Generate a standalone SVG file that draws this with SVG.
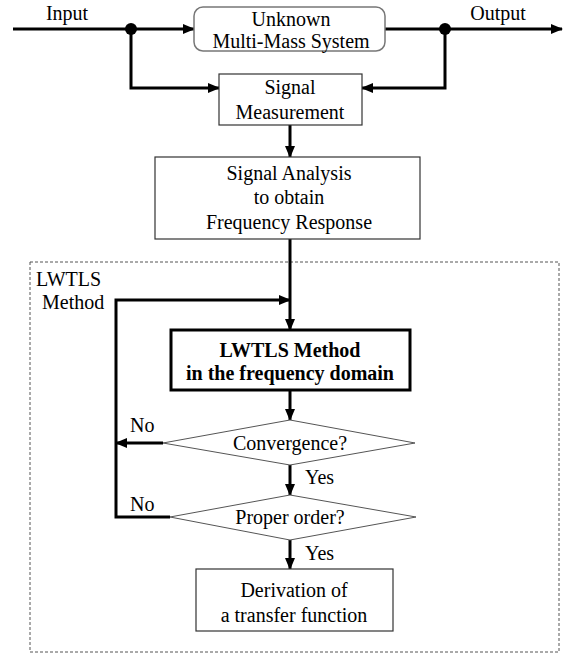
<svg xmlns="http://www.w3.org/2000/svg" width="567" height="657" viewBox="0 0 567 657">
<style>
text{font-family:'Liberation Serif','Times New Roman','DejaVu Serif',serif;font-size:20px;fill:#000}
.c{text-anchor:middle}
.b{font-weight:bold}
.box{fill:#fff;stroke:#333;stroke-width:1.2}
.dia{fill:#fff;stroke:#555;stroke-width:1}
.ln{fill:none;stroke:#000;stroke-width:3}
</style>
<defs>
<marker id="ar" markerUnits="userSpaceOnUse" markerWidth="12" markerHeight="10" refX="11" refY="5" orient="auto">
<path d="M0,0 L12,5 L0,10 Z" fill="#000"/>
</marker>
</defs>
<rect x="30" y="262" width="529" height="390" fill="none" stroke="#555" stroke-width="1" stroke-dasharray="3,2"/>
<text x="36" y="286" font-family="Liberation Serif, serif">LWTLS</text>
<text x="42" y="309">Method</text>
<g id="connectors">
<path class="ln" d="M13 29 H194" marker-end="url(#ar)"/>
<path class="ln" d="M385 29 H562" marker-end="url(#ar)"/>
<path class="ln" d="M131 29 V88 H219" marker-end="url(#ar)"/>
<path class="ln" d="M445 29 V88 H362" marker-end="url(#ar)"/>
<circle cx="131" cy="29" r="6" fill="#000"/>
<circle cx="445" cy="29" r="6" fill="#000"/>
<path class="ln" d="M290 125 V157" marker-end="url(#ar)"/>
<path class="ln" d="M290 239 V330" marker-end="url(#ar)"/>
<path class="ln" d="M170 517 H116 V300 H290" marker-end="url(#ar)"/>
<path class="ln" d="M290 390 V420" marker-end="url(#ar)"/>
<path class="ln" d="M163 443 H116" marker-end="url(#ar)"/>
<path class="ln" d="M290 465 V495" marker-end="url(#ar)"/>
<path class="ln" d="M290 540 V569" marker-end="url(#ar)"/>
<text x="130" y="432">No</text>
<text x="305" y="484">Yes</text>
<text x="130" y="511">No</text>
<text x="305" y="560">Yes</text>
<text class="c" x="67" y="20">Input</text>
<text class="c" x="498" y="20">Output</text>
</g>
<g id="unknown">
<rect x="194" y="7" width="191" height="44" rx="9" fill="#fff" stroke="#777" stroke-width="1.5"/>
<text class="c" x="291" y="26">Unknown</text>
<text class="c" x="291" y="48">Multi-Mass System</text>
</g>
<g id="measurement">
<rect class="box" x="219" y="74" width="143" height="51"/>
<text class="c" x="290" y="94">Signal</text>
<text class="c" x="290" y="119">Measurement</text>
</g>
<g id="analysis">
<rect class="box" x="155" y="157" width="265" height="82"/>
<text class="c" x="289" y="180">Signal Analysis</text>
<text class="c" x="289" y="204">to obtain</text>
<text class="c" x="289" y="229">Frequency Response</text>
</g>
<g id="lwtls">
<rect x="171" y="330" width="239" height="60" fill="#fff" stroke="#000" stroke-width="3"/>
<text class="c b" x="290" y="357">LWTLS Method</text>
<text class="c b" x="290" y="380">in the frequency domain</text>
</g>
<g id="convergence">
<polygon class="dia" points="163,443 290,420 415,443 290,465"/>
<text class="c" x="290" y="450">Convergence?</text>
</g>
<g id="order">
<polygon class="dia" points="170,517 290,495 416,517 290,540"/>
<text class="c" x="290" y="524">Proper order?</text>
</g>
<g id="derivation">
<rect class="box" x="196" y="569" width="197" height="62"/>
<text class="c" x="294" y="597">Derivation of</text>
<text class="c" x="294" y="622">a transfer function</text>
</g>
</svg>
